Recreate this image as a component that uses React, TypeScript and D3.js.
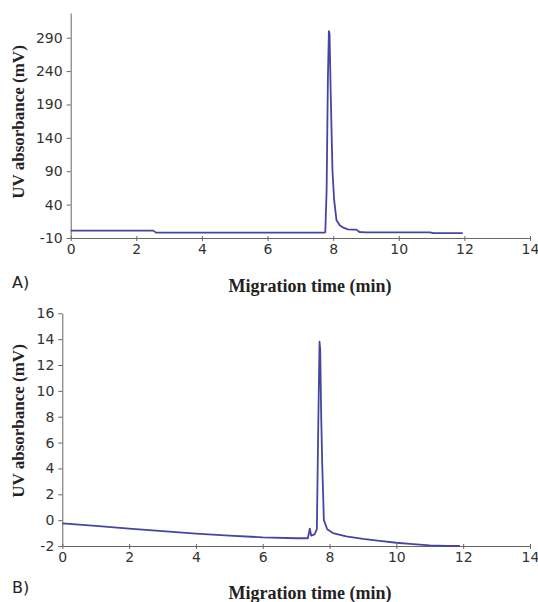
import React, { useRef, useEffect } from 'react';
import * as d3 from 'd3';

// Panel A: migration time (min) vs UV absorbance (mV)
const timeA = [0, 2.52, 2.6, 7.7, 7.76, 7.8, 7.84, 7.87, 7.89, 7.92, 7.95, 7.98, 8.03, 8.1, 8.2, 8.29, 8.45, 8.6, 8.71, 8.8, 9.0, 10.95, 11.05, 11.95];
const valueA = [1, 1, -2, -2, -1.5, 60, 230, 300, 296, 220, 152, 90, 47, 17, 9, 6, 3, 2.5, 2.5, -1, -1.5, -1.5, -2.8, -2.8];

// Panel B
const timeB = [0, 1, 2, 3, 4, 5, 6, 7, 7.35, 7.41, 7.45, 7.55, 7.62, 7.66, 7.7, 7.72, 7.75, 7.78, 7.83, 7.93, 8.1, 8.5, 9, 9.5, 10, 10.5, 11, 11.5, 11.9];
const valueB = [-0.25, -0.45, -0.65, -0.85, -1.05, -1.2, -1.33, -1.4, -1.4, -0.65, -1.2, -1.1, -0.7, 7, 13.8, 13.2, 8, 4.4, 0, -0.7, -1.0, -1.25, -1.45, -1.6, -1.75, -1.85, -1.95, -2.0, -2.0];

const xTicks = [0, 2, 4, 6, 8, 10, 12, 14];
const yTicksA = [-10, 40, 90, 140, 190, 240, 290];
const yTicksB = [-2, 0, 2, 4, 6, 8, 10, 12, 14, 16];

const panels = [
  { label: 'A)', time: timeA, value: valueA, yTicks: yTicksA, yDomain: [-10, 327], left: 70.7, top: 13, bottom: 238, yLabelC: 122, labelY: 288, titleY: 292 },
  { label: 'B)', time: timeB, value: valueB, yTicks: yTicksB, yDomain: [-2, 16], left: 62.3, top: 313.3, bottom: 546, yLabelC: 421, labelY: 593, titleY: 599 },
];

const tickFont = 'DejaVu Sans, Verdana, sans-serif';
const titleFont = 'Liberation Serif, Times New Roman, serif';

const App = () => {
  const svgRef = useRef(null);

  useEffect(() => {
    const svg = d3.select(svgRef.current);
    svg.selectAll('*').remove();

    panels.forEach(p => {
      const x = d3.scaleLinear().domain([0, 14]).range([p.left, 530]);
      const y = d3.scaleLinear().domain(p.yDomain).range([p.bottom, p.top]);

      // x axis, cross ticks
      const xa = svg.append('g')
        .attr('transform', `translate(0,${p.bottom})`)
        .call(d3.axisBottom(x).tickValues(xTicks).tickFormat(d => String(d)).tickSize(3).tickSizeOuter(0).tickPadding(3));
      xa.select('.domain').attr('stroke', '#666');
      xa.selectAll('.tick line').attr('y1', -2).attr('y2', 3).attr('stroke', '#666');
      xa.selectAll('text')
        .attr('font-family', tickFont)
        .attr('font-size', 14)
        .attr('fill', '#333');

      // y axis
      const ya = svg.append('g')
        .attr('transform', `translate(${p.left},0)`)
        .call(d3.axisLeft(y).tickValues(p.yTicks).tickFormat(d => String(d)).tickSize(4).tickSizeOuter(0).tickPadding(4));
      ya.select('.domain').attr('stroke', '#666');
      ya.selectAll('line').attr('stroke', '#666');
      ya.selectAll('text')
        .attr('font-family', tickFont)
        .attr('font-size', 14)
        .attr('fill', '#333');

      // trace
      const pts = p.time.map((t, i) => [t, p.value[i]]);
      const line = d3.line()
        .x(d => x(d[0]))
        .y(d => y(d[1]));
      svg.append('path')
        .datum(pts)
        .attr('fill', 'none')
        .attr('stroke', '#4646a2')
        .attr('stroke-width', 1.8)
        .attr('stroke-linejoin', 'round')
        .attr('d', line);

      // y label
      svg.append('text')
        .attr('transform', `translate(24,${p.yLabelC}) rotate(-90)`)
        .attr('text-anchor', 'middle')
        .attr('font-family', titleFont)
        .attr('font-weight', 'bold')
        .attr('font-size', 17)
        .attr('fill', '#222')
        .text('UV absorbance (mV)');

      // x label
      svg.append('text')
        .attr('x', 310)
        .attr('y', p.titleY)
        .attr('text-anchor', 'middle')
        .attr('font-family', titleFont)
        .attr('font-weight', 'bold')
        .attr('font-size', 18)
        .attr('fill', '#222')
        .text('Migration time (min)');

      // panel letter
      svg.append('text')
        .attr('x', 12)
        .attr('y', p.labelY)
        .attr('font-family', tickFont)
        .attr('font-size', 16)
        .attr('fill', '#222')
        .text(p.label);
    });
  }, []);

  return (
    <svg ref={svgRef} width={538} height={602} style={{ position: 'absolute', left: 0, top: 0, background: '#fff' }}></svg>
  );
};

export default App;
